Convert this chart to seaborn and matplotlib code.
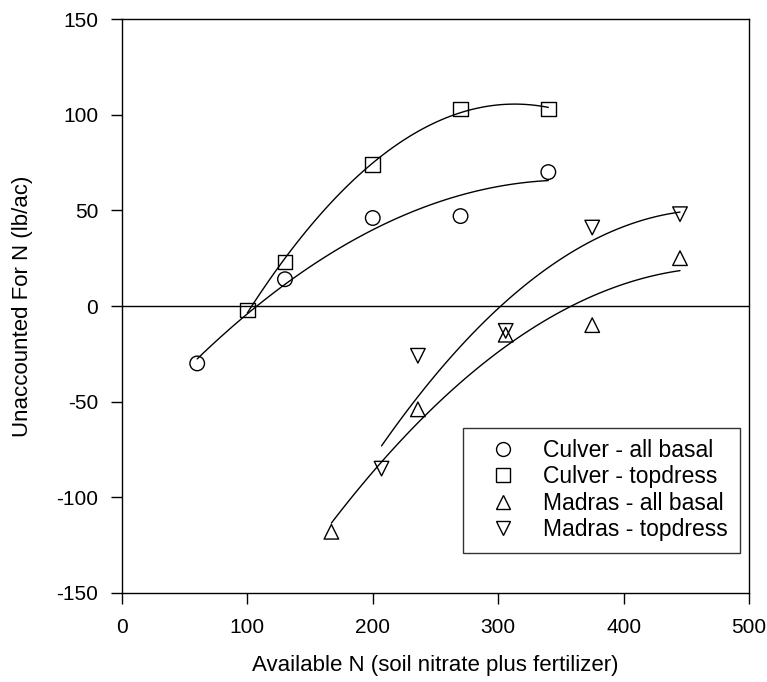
import numpy as np
import pandas as pd
import matplotlib
matplotlib.use("Agg")
import matplotlib.pyplot as plt
import seaborn as sns

sns.set_style("ticks")
plt.rcParams['font.family'] = ['Liberation Sans', 'DejaVu Sans']
plt.rcParams['axes.unicode_minus'] = False
plt.rcParams['text.color'] = 'black'
plt.rcParams['axes.labelcolor'] = 'black'
plt.rcParams['xtick.color'] = 'black'
plt.rcParams['ytick.color'] = 'black'

series_names = ["Culver - all basal", "Culver - topdress", "Madras - all basal", "Madras - topdress"]

culver_basal_x = [60, 130, 200, 270, 340]
culver_basal_y = [-30, 14, 46, 47, 70]
culver_top_x = [100, 130, 200, 270, 340]
culver_top_y = [-2, 23, 74, 103, 103]
madras_basal_x = [167, 236, 306, 375, 445]
madras_basal_y = [-118, -54, -15, -10, 25]
madras_top_x = [207, 236, 306, 375, 445]
madras_top_y = [-85, -26, -13, 41, 48]

x_ticks = [0, 100, 200, 300, 400, 500]
y_ticks = [-150, -100, -50, 0, 50, 100, 150]

xs = [culver_basal_x, culver_top_x, madras_basal_x, madras_top_x]
ys = [culver_basal_y, culver_top_y, madras_basal_y, madras_top_y]

df = pd.concat([pd.DataFrame({"x": x, "y": y, "series": n}) for x, y, n in zip(xs, ys, series_names)],
               ignore_index=True)

fig = plt.figure(figsize=(7.67, 6.82), dpi=100)
ax = fig.add_axes([0.159, 0.1305, 0.8175, 0.8416])

for n in series_names:
    sub = df[df.series == n]
    sns.regplot(data=sub, x="x", y="y", order=2, ci=None, scatter=False, truncate=True,
                line_kws=dict(color="black", lw=1.0), ax=ax)

markers = {series_names[0]: "o", series_names[1]: "s", series_names[2]: "^", series_names[3]: "v"}
sns.scatterplot(data=df, x="x", y="y", style="series", markers=markers, s=110,
                facecolor="none", edgecolor="black", linewidth=1.0, color="black", ax=ax, zorder=5)

ax.axhline(0, color="black", lw=1.0)
ax.set_xlim(0, 500)
ax.set_ylim(-150, 150)
ax.set_xticks(x_ticks)
ax.set_yticks(y_ticks)
ax.tick_params(direction="out", length=8, width=1, labelsize=15, color="black", labelcolor="black")
ax.tick_params(axis="x", pad=10)
ax.tick_params(axis="y", pad=9)
ax.set_xlabel("Available N (soil nitrate plus fertilizer)", fontsize=16, labelpad=13, color="black")
ax.set_ylabel("Unaccounted For N (lb/ac)", fontsize=16, labelpad=17, color="black")
for sp in ax.spines.values():
    sp.set_color("black")
    sp.set_linewidth(1.0)

handles, labels = ax.get_legend_handles_labels()
for h in handles:
    try:
        h.set_markerfacecolor("none")
        h.set_markeredgecolor("black")
        h.set_markersize(10)
    except Exception:
        pass
leg = ax.legend(handles, labels, loc="lower right", bbox_to_anchor=(0.985, 0.07), fontsize=16.5,
                frameon=True, fancybox=False, edgecolor="black", handletextpad=0.5,
                borderpad=0.5, labelspacing=0.15, handlelength=2.5, borderaxespad=0)
leg.get_frame().set_linewidth(1.0)
for t in leg.get_texts():
    t.set_color("black")

fig.savefig("out.png", dpi=100)
